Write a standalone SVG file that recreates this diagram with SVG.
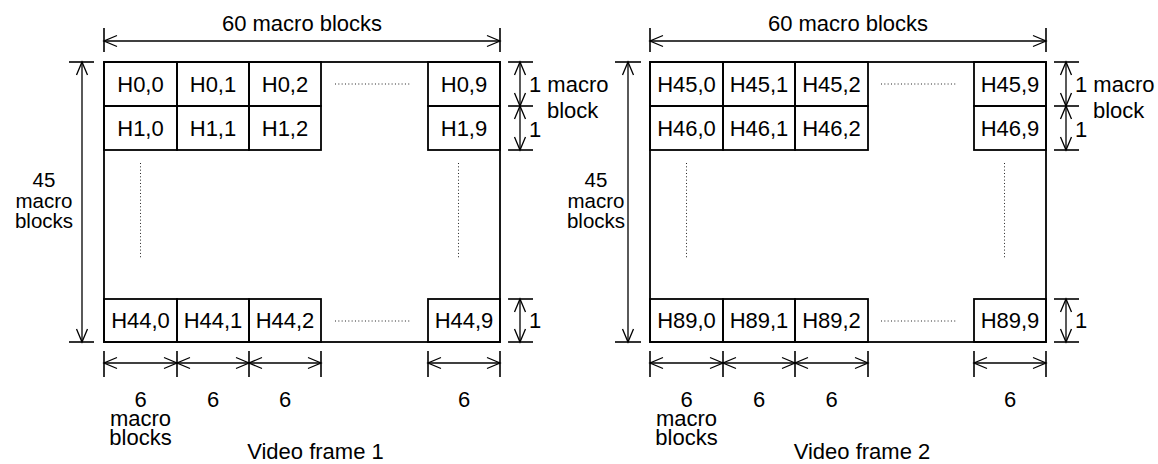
<svg xmlns="http://www.w3.org/2000/svg" width="1158" height="464" viewBox="0 0 1158 464">
<style>
text{font-family:"Liberation Sans",Arial,sans-serif;font-size:22px;fill:#000;text-anchor:middle}
.t2{font-size:20.5px}
.st{text-anchor:start}
.cell{fill:none;stroke:#000;stroke-width:1.8}
.frame{fill:#fff;stroke:#000;stroke-width:1.8}
.dim{fill:none;stroke:#000;stroke-width:1.3}
.tick{fill:none;stroke:#000;stroke-width:1.6}
.dot{fill:none;stroke:#222;stroke-width:1;stroke-dasharray:1 2.33}
</style>
<defs>
<marker id="arr" viewBox="-15 -7 17 14" refX="0" refY="0" markerWidth="17" markerHeight="14" markerUnits="userSpaceOnUse" orient="auto-start-reverse">
<path d="M-13,-5.5 L0,0 L-13,5.5" fill="none" stroke="#000" stroke-width="1.3"/>
</marker>
</defs>
<rect width="1158" height="464" fill="#fff"/>

<!-- Frame 1 -->
<g id="frame1">
<rect class="frame" x="104" y="62" width="396" height="280"/>
<line class="dot" x1="335" y1="84" x2="411" y2="84"/>
<line class="dot" x1="335" y1="321" x2="411" y2="321"/>
<line class="dot" x1="140.5" y1="163" x2="140.5" y2="258"/>
<line class="dot" x1="458.5" y1="163" x2="458.5" y2="258"/>
<text x="315.5" y="459">Video frame 1</text>
</g>
<g id="H0_0"><rect class="cell" x="104" y="62" width="73" height="44"/><text x="140.5" y="92">H0,0</text></g>
<g id="H0_1"><rect class="cell" x="177" y="62" width="72" height="44"/><text x="213" y="92">H0,1</text></g>
<g id="H0_2"><rect class="cell" x="249" y="62" width="72" height="44"/><text x="285" y="92">H0,2</text></g>
<g id="H0_9"><rect class="cell" x="428" y="62" width="72" height="44"/><text x="464" y="92">H0,9</text></g>
<g id="H1_0"><rect class="cell" x="104" y="106" width="73" height="44"/><text x="140.5" y="136">H1,0</text></g>
<g id="H1_1"><rect class="cell" x="177" y="106" width="72" height="44"/><text x="213" y="136">H1,1</text></g>
<g id="H1_2"><rect class="cell" x="249" y="106" width="72" height="44"/><text x="285" y="136">H1,2</text></g>
<g id="H1_9"><rect class="cell" x="428" y="106" width="72" height="44"/><text x="464" y="136">H1,9</text></g>
<g id="H44_0"><rect class="cell" x="104" y="299" width="73" height="43"/><text x="140.5" y="328">H44,0</text></g>
<g id="H44_1"><rect class="cell" x="177" y="299" width="72" height="43"/><text x="213" y="328">H44,1</text></g>
<g id="H44_2"><rect class="cell" x="249" y="299" width="72" height="43"/><text x="285" y="328">H44,2</text></g>
<g id="H44_9"><rect class="cell" x="428" y="299" width="72" height="43"/><text x="464" y="328">H44,9</text></g>

<!-- Frame 2 -->
<g id="frame2">
<rect class="frame" x="650" y="62" width="396" height="280"/>
<line class="dot" x1="881" y1="84" x2="957" y2="84"/>
<line class="dot" x1="881" y1="321" x2="957" y2="321"/>
<line class="dot" x1="686.5" y1="163" x2="686.5" y2="258"/>
<line class="dot" x1="1004.5" y1="163" x2="1004.5" y2="258"/>
<text x="862" y="459">Video frame 2</text>
</g>
<g id="H45_0"><rect class="cell" x="650" y="62" width="73" height="44"/><text x="686.5" y="92">H45,0</text></g>
<g id="H45_1"><rect class="cell" x="723" y="62" width="72" height="44"/><text x="759" y="92">H45,1</text></g>
<g id="H45_2"><rect class="cell" x="795" y="62" width="73" height="44"/><text x="831.5" y="92">H45,2</text></g>
<g id="H45_9"><rect class="cell" x="974" y="62" width="72" height="44"/><text x="1010" y="92">H45,9</text></g>
<g id="H46_0"><rect class="cell" x="650" y="106" width="73" height="44"/><text x="686.5" y="136">H46,0</text></g>
<g id="H46_1"><rect class="cell" x="723" y="106" width="72" height="44"/><text x="759" y="136">H46,1</text></g>
<g id="H46_2"><rect class="cell" x="795" y="106" width="73" height="44"/><text x="831.5" y="136">H46,2</text></g>
<g id="H46_9"><rect class="cell" x="974" y="106" width="72" height="44"/><text x="1010" y="136">H46,9</text></g>
<g id="H89_0"><rect class="cell" x="650" y="299" width="73" height="43"/><text x="686.5" y="328">H89,0</text></g>
<g id="H89_1"><rect class="cell" x="723" y="299" width="72" height="43"/><text x="759" y="328">H89,1</text></g>
<g id="H89_2"><rect class="cell" x="795" y="299" width="73" height="43"/><text x="831.5" y="328">H89,2</text></g>
<g id="H89_9"><rect class="cell" x="974" y="299" width="72" height="43"/><text x="1010" y="328">H89,9</text></g>

<!-- Dimension connectors -->
<g id="connectors">
<!-- frame 1 -->
<line class="tick" x1="104" y1="28" x2="104" y2="52"/>
<line class="tick" x1="500" y1="28" x2="500" y2="52"/>
<line class="dim" x1="104" y1="41" x2="500" y2="41" marker-start="url(#arr)" marker-end="url(#arr)"/>
<line class="tick" x1="69" y1="62" x2="94" y2="62"/>
<line class="tick" x1="69" y1="342" x2="94" y2="342"/>
<line class="dim" x1="82" y1="62" x2="82" y2="342" marker-start="url(#arr)" marker-end="url(#arr)"/>
<line class="tick" x1="508" y1="62" x2="533" y2="62"/>
<line class="tick" x1="508" y1="106" x2="533" y2="106"/>
<line class="tick" x1="508" y1="150" x2="533" y2="150"/>
<line class="tick" x1="508" y1="299" x2="533" y2="299"/>
<line class="tick" x1="508" y1="342" x2="533" y2="342"/>
<line class="dim" x1="520" y1="62" x2="520" y2="106" marker-start="url(#arr)" marker-end="url(#arr)"/>
<line class="dim" x1="520" y1="106" x2="520" y2="150" marker-start="url(#arr)" marker-end="url(#arr)"/>
<line class="dim" x1="520" y1="299" x2="520" y2="342" marker-start="url(#arr)" marker-end="url(#arr)"/>
<line class="tick" x1="104" y1="351" x2="104" y2="377"/>
<line class="tick" x1="177" y1="351" x2="177" y2="377"/>
<line class="tick" x1="249" y1="351" x2="249" y2="377"/>
<line class="tick" x1="321" y1="351" x2="321" y2="377"/>
<line class="tick" x1="428" y1="351" x2="428" y2="377"/>
<line class="tick" x1="500" y1="351" x2="500" y2="377"/>
<line class="dim" x1="104" y1="363" x2="177" y2="363" marker-start="url(#arr)" marker-end="url(#arr)"/>
<line class="dim" x1="177" y1="363" x2="249" y2="363" marker-start="url(#arr)" marker-end="url(#arr)"/>
<line class="dim" x1="249" y1="363" x2="321" y2="363" marker-start="url(#arr)" marker-end="url(#arr)"/>
<line class="dim" x1="428" y1="363" x2="500" y2="363" marker-start="url(#arr)" marker-end="url(#arr)"/>
<!-- frame 2 -->
<line class="tick" x1="650" y1="28" x2="650" y2="52"/>
<line class="tick" x1="1046" y1="28" x2="1046" y2="52"/>
<line class="dim" x1="650" y1="41" x2="1046" y2="41" marker-start="url(#arr)" marker-end="url(#arr)"/>
<line class="tick" x1="615" y1="62" x2="641" y2="62"/>
<line class="tick" x1="615" y1="342" x2="641" y2="342"/>
<line class="dim" x1="628" y1="62" x2="628" y2="342" marker-start="url(#arr)" marker-end="url(#arr)"/>
<line class="tick" x1="1054" y1="62" x2="1079" y2="62"/>
<line class="tick" x1="1054" y1="106" x2="1079" y2="106"/>
<line class="tick" x1="1054" y1="150" x2="1079" y2="150"/>
<line class="tick" x1="1054" y1="299" x2="1079" y2="299"/>
<line class="tick" x1="1054" y1="342" x2="1079" y2="342"/>
<line class="dim" x1="1066" y1="62" x2="1066" y2="106" marker-start="url(#arr)" marker-end="url(#arr)"/>
<line class="dim" x1="1066" y1="106" x2="1066" y2="150" marker-start="url(#arr)" marker-end="url(#arr)"/>
<line class="dim" x1="1066" y1="299" x2="1066" y2="342" marker-start="url(#arr)" marker-end="url(#arr)"/>
<line class="tick" x1="650" y1="351" x2="650" y2="377"/>
<line class="tick" x1="723" y1="351" x2="723" y2="377"/>
<line class="tick" x1="795" y1="351" x2="795" y2="377"/>
<line class="tick" x1="868" y1="351" x2="868" y2="377"/>
<line class="tick" x1="974" y1="351" x2="974" y2="377"/>
<line class="tick" x1="1046" y1="351" x2="1046" y2="377"/>
<line class="dim" x1="650" y1="363" x2="723" y2="363" marker-start="url(#arr)" marker-end="url(#arr)"/>
<line class="dim" x1="723" y1="363" x2="795" y2="363" marker-start="url(#arr)" marker-end="url(#arr)"/>
<line class="dim" x1="795" y1="363" x2="868" y2="363" marker-start="url(#arr)" marker-end="url(#arr)"/>
<line class="dim" x1="974" y1="363" x2="1046" y2="363" marker-start="url(#arr)" marker-end="url(#arr)"/>
</g>

<!-- Dimension labels -->
<g id="labels1">
<text x="302" y="31">60 macro blocks</text>
<text class="t2" x="44" y="187">45<tspan x="44" dy="21">macro</tspan><tspan x="44" dy="20">blocks</tspan></text>
<text class="st" x="529" y="92">1 macro</text>
<text class="st" x="547" y="118">block</text>
<text class="st" x="529" y="137">1</text>
<text class="st" x="529" y="328">1</text>
<text x="140.5" y="407">6<tspan x="140.5" dy="19">macro</tspan><tspan x="140.5" dy="19">blocks</tspan></text>
<text x="213" y="407">6</text>
<text x="285" y="407">6</text>
<text x="464" y="407">6</text>
</g>
<g id="labels2">
<text x="848" y="31">60 macro blocks</text>
<text class="t2" x="596" y="187">45<tspan x="596" dy="21">macro</tspan><tspan x="596" dy="20">blocks</tspan></text>
<text class="st" x="1075" y="92">1 macro</text>
<text class="st" x="1093" y="118">block</text>
<text class="st" x="1075" y="137">1</text>
<text class="st" x="1075" y="328">1</text>
<text x="686.5" y="407">6<tspan x="686.5" dy="19">macro</tspan><tspan x="686.5" dy="19">blocks</tspan></text>
<text x="759" y="407">6</text>
<text x="831.5" y="407">6</text>
<text x="1010" y="407">6</text>
</g>
</svg>
